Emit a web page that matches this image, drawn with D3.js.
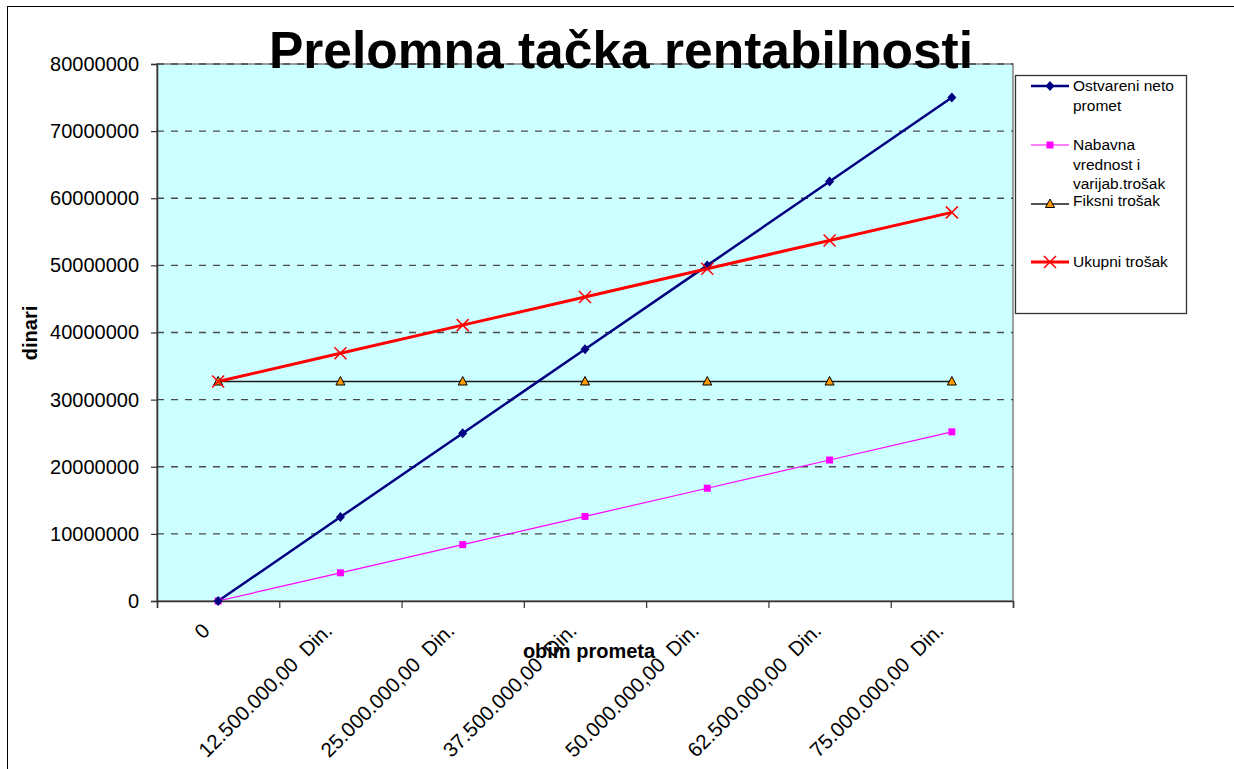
<!DOCTYPE html>
<html>
<head>
<meta charset="utf-8">
<script src="https://cdn.jsdelivr.net/npm/d3@7/dist/d3.min.js"></script>
<style>
  html, body { margin: 0; padding: 0; background: #fff; }
  svg { display: block; }
  text { font-family: "Liberation Sans", Arial, sans-serif; }
</style>
</head>
<body>
<svg id="chart" width="1234" height="769"></svg>
<script>
// ---- data ----
const categories = ["0", "12.500.000,00  Din.", "25.000.000,00  Din.", "37.500.000,00  Din.", "50.000.000,00  Din.", "62.500.000,00  Din.", "75.000.000,00  Din."];
const ostvareniNetoPromet = [0, 12500000, 25000000, 37500000, 50000000, 62500000, 75000000];
const nabavnaVrednost = [0, 4200000, 8400000, 12600000, 16800000, 21000000, 25200000];
const fiksniTrosak = [32700000, 32700000, 32700000, 32700000, 32700000, 32700000, 32700000];
const ukupniTrosak = [32700000, 36900000, 41100000, 45300000, 49500000, 53700000, 57900000];
const yTicks = [0, 10000000, 20000000, 30000000, 40000000, 50000000, 60000000, 70000000, 80000000];
const seriesNames = ["Ostvareni neto promet", "Nabavna vrednost i varijab.trošak", "Fiksni trošak", "Ukupni trošak"];
const legendLines = [["Ostvareni neto", "promet"], ["Nabavna", "vrednost i", "varijab.trošak"], ["Fiksni trošak"], ["Ukupni trošak"]];
const titleText = "Prelomna tačka rentabilnosti";
const yTitle = "dinari";
const xTitle = "obim prometa";

const svg = d3.select("#chart");
const L = 157, R = 1013, T = 64, B = 601;

// outer chart border (right/bottom lie outside the picture)
svg.append("rect").attr("x", 7.5).attr("y", 6.5).attr("width", 1260).attr("height", 800)
  .attr("fill", "#fff").attr("stroke", "#000").attr("stroke-width", 1);

const x = d3.scaleBand().domain(categories).range([L, R]).paddingInner(0).paddingOuter(0);
const cx = c => x(c) + x.bandwidth() / 2;
const y = d3.scaleLinear().domain([0, 80000000]).range([B, T]);

// plot area
svg.append("rect").attr("x", L).attr("y", T).attr("width", R - L).attr("height", B - T)
  .attr("fill", "#CCFFFF").attr("stroke", "#808080").attr("stroke-width", 1.5);

// gridlines
svg.append("g").selectAll("line").data(yTicks.filter(d => d > 0)).join("line")
  .attr("x1", L).attr("x2", R).attr("y1", d => y(d)).attr("y2", d => y(d))
  .attr("stroke", "#4a4a4a").attr("stroke-width", 1.3).attr("stroke-dasharray", "7,7");

// y axis
const yAxis = svg.append("g").attr("transform", `translate(${L},0)`)
  .call(d3.axisLeft(y).tickValues(yTicks).tickSize(6).tickPadding(12).tickFormat(d => String(d)));
yAxis.select(".domain").attr("stroke", "#333").attr("stroke-width", 1.5);
yAxis.selectAll(".tick line").attr("stroke", "#333").attr("stroke-width", 1.2);
yAxis.selectAll("text").attr("font-size", 20).attr("fill", "#000")
  .attr("font-family", "'Liberation Sans', Arial, sans-serif");

// x axis (ticks at category boundaries)
const xb = d3.scaleLinear().domain([0, categories.length]).range([L, R]);
const xAxis = svg.append("g").attr("transform", `translate(0,${B})`)
  .call(d3.axisBottom(xb).tickValues(d3.range(categories.length + 1)).tickSize(7).tickFormat(""));
xAxis.select(".domain").attr("stroke", "#333").attr("stroke-width", 1.5);
xAxis.selectAll(".tick line").attr("stroke", "#333").attr("stroke-width", 1.2);

svg.append("g").selectAll("text").data(categories).join("text")
  .attr("transform", d => `translate(${cx(d) - 7},${B + 31}) rotate(-45)`)
  .attr("text-anchor", "end").attr("font-size", 20.5).attr("fill", "#000")
  .style("white-space", "pre")
  .text(d => d);

// lines
const line = vals => d3.line().x((d, i) => cx(categories[i])).y(d => y(d))(vals);

svg.append("path").attr("d", line(fiksniTrosak)).attr("fill", "none").attr("stroke", "#1a1a1a").attr("stroke-width", 1.5);
svg.append("path").attr("d", line(nabavnaVrednost)).attr("fill", "none").attr("stroke", "#FF00FF").attr("stroke-width", 1.2);
svg.append("path").attr("d", line(ostvareniNetoPromet)).attr("fill", "none").attr("stroke", "#000080").attr("stroke-width", 2.5);
svg.append("path").attr("d", line(ukupniTrosak)).attr("fill", "none").attr("stroke", "#FF0000").attr("stroke-width", 3);

// markers
function diamond(g, px, py) {
  g.append("path").attr("d", `M${px},${py - 5}L${px + 4.5},${py}L${px},${py + 5}L${px - 4.5},${py}Z`).attr("fill", "#000080");
}
function square(g, px, py) {
  g.append("rect").attr("x", px - 3.5).attr("y", py - 3.5).attr("width", 7).attr("height", 7).attr("fill", "#FF00FF");
}
function triangle(g, px, py) {
  g.append("path").attr("d", `M${px},${py - 5}L${px + 4.5},${py + 3.5}L${px - 4.5},${py + 3.5}Z`)
    .attr("fill", "#FF9900").attr("stroke", "#000").attr("stroke-width", 1);
}
function cross(g, px, py) {
  g.append("path").attr("d", `M${px - 6},${py - 6}L${px + 6},${py + 6}M${px + 6},${py - 6}L${px - 6},${py + 6}`)
    .attr("stroke", "#FF0000").attr("stroke-width", 1.5).attr("fill", "none");
}
const mk = svg.append("g");
fiksniTrosak.forEach((v, i) => triangle(mk, cx(categories[i]), y(v)));
nabavnaVrednost.forEach((v, i) => square(mk, cx(categories[i]), y(v)));
ostvareniNetoPromet.forEach((v, i) => diamond(mk, cx(categories[i]), y(v)));
ukupniTrosak.forEach((v, i) => cross(mk, cx(categories[i]), y(v)));

// title
svg.append("text").attr("x", 621).attr("y", 68).attr("text-anchor", "middle")
  .attr("font-size", 51.5).attr("font-weight", "bold").attr("fill", "#000").text(titleText);

// axis titles
svg.append("text").attr("transform", "translate(37,333) rotate(-90)").attr("text-anchor", "middle")
  .attr("font-size", 20).attr("font-weight", "bold").attr("fill", "#000").text(yTitle);
svg.append("text").attr("x", 589).attr("y", 658).attr("text-anchor", "middle")
  .attr("font-size", 20).attr("font-weight", "bold").attr("fill", "#000").text(xTitle);

// legend
const lg = svg.append("g");
lg.append("rect").attr("x", 1015.5).attr("y", 75.5).attr("width", 171).attr("height", 238)
  .attr("fill", "#fff").attr("stroke", "#333").attr("stroke-width", 1.3);
const lineY = [86, 145, 204, 262];
const textY = [86, 145, 201, 262];
const styles = [
  { c: "#000080", w: 2.5, m: diamond },
  { c: "#FF00FF", w: 1.2, m: square },
  { c: "#1a1a1a", w: 1.5, m: triangle },
  { c: "#FF0000", w: 3, m: cross }
];
seriesNames.forEach((name, i) => {
  const s = styles[i];
  lg.append("line").attr("x1", 1031).attr("x2", 1069).attr("y1", lineY[i]).attr("y2", lineY[i])
    .attr("stroke", s.c).attr("stroke-width", s.w);
  s.m(lg, 1050, lineY[i]);
  lg.append("text").attr("x", 1073).attr("y", textY[i]).attr("dy", "0.35em")
    .attr("font-size", 15.5).attr("fill", "#000")
    .selectAll("tspan").data(legendLines[i]).join("tspan")
    .attr("x", 1073).attr("dy", (d, j) => j === 0 ? "0.35em" : "1.25em").text(d => d);
});
</script>
</body>
</html>
